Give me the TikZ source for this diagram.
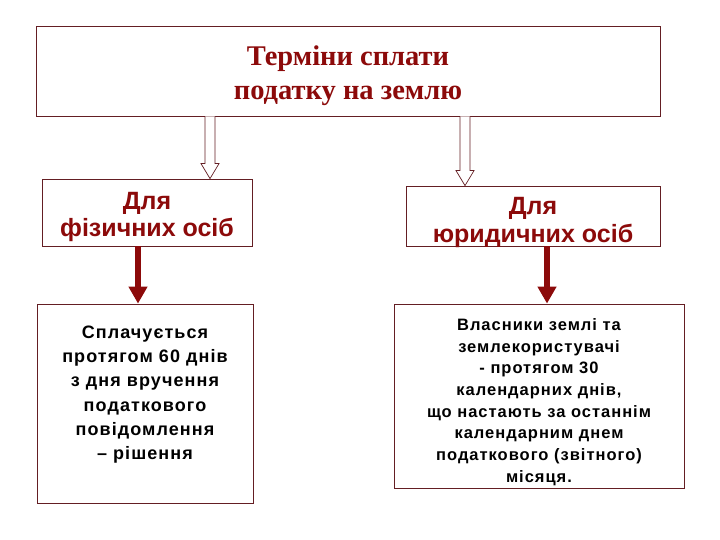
\documentclass[tikz,border=0pt]{standalone}
\usepackage{fontspec}
\setmainfont{Liberation Serif}
\setsansfont{Liberation Sans}
\usetikzlibrary{arrows.meta,calc}
\definecolor{bordo}{RGB}{140,10,10}
\definecolor{ramka}{RGB}{100,30,35}
% текст у рамці: висота, ширина, відступ зверху, рядки
\newcommand{\vmist}[4]{\parbox[c][#1][t]{#2}{\centering\vspace*{#3}#4}}

\begin{document}
\begin{tikzpicture}[x=1pt, y=-1pt, line join=miter,
	korobka/.style={draw=ramka, line width=0.8pt, fill=white, inner sep=0pt},
	porozhnia/.style={draw=ramka, line width=0.7pt, fill=white},
	povna/.style={draw=bordo, line width=6pt, -{Triangle[length=17pt, width=18pt]}}]
	\useasboundingbox (0,0) rectangle (720,540);
	% Заголовок
	\node[korobka, text=bordo, font=\fontsize{28.5}{34}\selectfont\bfseries] (termin) at (348,71)
		{\vmist{90pt}{624pt}{19.9pt}{Терміни сплати\\податку на землю}};
	% Платники
	\node[korobka, text=bordo, font=\sffamily\bfseries\fontsize{25}{27.5}\selectfont] (fiz) at (147,212.5)
		{\vmist{67pt}{210pt}{13pt}{Для\\фізичних осіб}};
	\node[korobka, text=bordo, font=\sffamily\bfseries\fontsize{25}{27.5}\selectfont] (jur) at (533,216)
		{\vmist{60pt}{254pt}{11.4pt}{Для\\юридичних осіб}};
	% Строки сплати
	\node[korobka, font=\sffamily\bfseries\fontsize{18}{24.2}\selectfont\addfontfeature{LetterSpace=6}] (fizT) at (145,403.5)
		{\vmist{199pt}{216pt}{22pt}{Сплачується\\протягом 60 днів\\з дня вручення\\податкового\\повідомлення\\– рішення}};
	\node[korobka, font=\sffamily\bfseries\fontsize{16.5}{21.7}\selectfont\addfontfeature{LetterSpace=6}] (jurT) at (539,396)
		{\vmist{184pt}{290pt}{14.5pt}{Власники землі та\\землекористувачі\\- протягом 30\\календарних днів,\\що настають за останнім\\календарним днем\\податкового (звітного)\\місяця.}};
	% Порожні стрілки
	\coordinate (xl) at (210,0);
	\coordinate (xr) at (465,0);
	\foreach \c/\n in {xl/fiz, xr/jur} {
		\coordinate (s) at (termin.south -| \c);
		\coordinate (e) at (\n.north -| \c);
		\draw[porozhnia] ($(s)+(-5,0)$) -- ($(e)+(-5,-15)$) -- ++(-4,0) -- (e)
			-- ($(e)+(9,-15)$) -- ++(-4,0) -- ($(s)+(5,0)$);
	}
	% Суцільні стрілки
	\coordinate (al) at (138,0);
	\coordinate (ar) at (547,0);
	\draw[povna] (fiz.south -| al) -- (fizT.north -| al);
	\draw[povna] (jur.south -| ar) -- (jurT.north -| ar);
\end{tikzpicture}
\end{document}
